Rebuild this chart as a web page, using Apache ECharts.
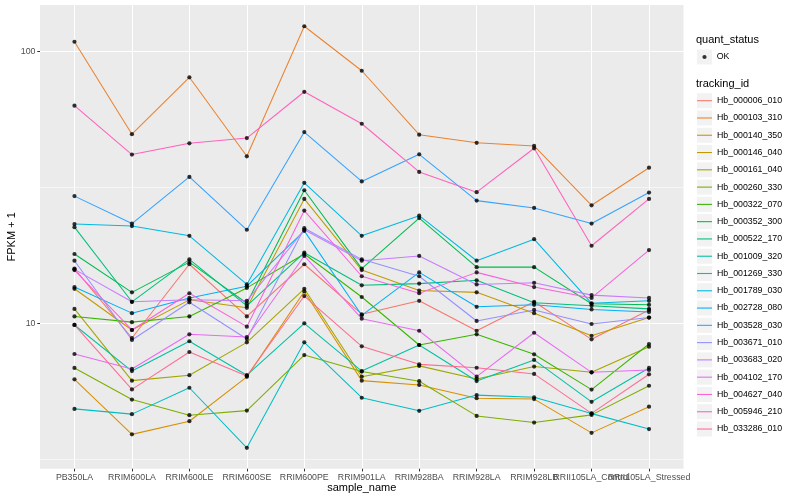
<!DOCTYPE html>
<html><head><meta charset="utf-8">
<script src="https://cdn.jsdelivr.net/npm/echarts@6/dist/echarts.min.js"></script>
<style>html,body{margin:0;padding:0;background:#fff}#c{width:800px;height:500px}</style>
</head><body><div id="c"></div>
<script>
const samples = ['PB350LA','RRIM600LA','RRIM600LE','RRIM600SE','RRIM600PE','RRIM901LA','RRIM928BA','RRIM928LA','RRIM928LB','RRII105LA_Control','RRII105LA_Stressed'];
const trackingIds = ['Hb_000006_010','Hb_000103_310','Hb_000140_350','Hb_000146_040','Hb_000161_040','Hb_000260_330','Hb_000322_070','Hb_000352_300','Hb_000522_170','Hb_001009_320','Hb_001269_330','Hb_001789_030','Hb_002728_080','Hb_003528_030','Hb_003671_010','Hb_003683_020','Hb_004102_170','Hb_004627_040','Hb_005946_210','Hb_033286_010'];
const quantStatus = ['OK'];
const yTickValues = [10, 100];
const yMinorValues = [3.1623, 31.623];

const Hb_000006_010 = [15.9, 8.83, 16.5, 10.6, 16.5, 10.8, 12.1, 9.39, 12.0, 8.73, 11.2];
const Hb_000103_310 = [108.8, 49.7, 80.5, 41.2, 124.1, 85.1, 49.5, 46.2, 45.0, 27.2, 37.4];
const Hb_000140_350 = [6.22, 3.90, 4.36, 6.35, 13.1, 6.15, 5.93, 5.30, 5.26, 3.95, 4.93];
const Hb_000146_040 = [13.4, 9.45, 12.2, 11.4, 28.7, 15.7, 13.2, 13.0, 10.9, 9.00, 10.5];
const Hb_000161_040 = [11.3, 6.15, 6.44, 8.51, 13.4, 6.36, 6.97, 6.24, 6.93, 6.60, 8.20];
const Hb_000260_330 = [6.85, 5.24, 4.59, 4.77, 7.64, 6.64, 6.12, 4.56, 4.31, 4.60, 5.89];
const Hb_000322_070 = [10.6, 10.1, 10.6, 13.5, 18.0, 12.5, 8.32, 9.11, 7.69, 5.70, 8.39];
const Hb_000352_300 = [18.0, 13.0, 16.8, 11.85, 30.9, 15.9, 24.4, 16.1, 16.1, 11.8, 11.7];
const Hb_000522_170 = [22.6, 12.0, 17.2, 11.6, 18.2, 13.8, 14.0, 14.4, 11.9, 11.6, 11.3];
const Hb_001009_320 = [9.86, 6.67, 8.59, 6.44, 10.0, 6.67, 8.32, 6.13, 7.33, 5.14, 6.85];
const Hb_001269_330 = [4.84, 4.63, 5.79, 3.48, 8.51, 5.32, 4.76, 5.44, 5.34, 4.65, 4.08];
const Hb_001789_030 = [23.2, 22.8, 21.0, 13.9, 32.9, 21.0, 24.9, 17.0, 20.4, 11.85, 12.1];
const Hb_002728_080 = [13.6, 10.9, 12.4, 13.7, 21.9, 10.7, 15.4, 11.5, 11.7, 11.25, 11.0];
const Hb_003528_030 = [29.4, 23.3, 34.6, 22.1, 50.6, 33.3, 41.9, 28.3, 26.6, 23.3, 30.3];
const Hb_003671_010 = [17.0, 8.68, 11.95, 8.75, 22.4, 17.2, 14.9, 10.2, 11.2, 9.94, 10.5];
const Hb_003683_020 = [15.8, 12.0, 12.2, 12.1, 22.1, 17.0, 17.7, 13.9, 14.1, 12.7, 12.4];
const Hb_004102_170 = [7.71, 6.79, 9.11, 8.9, 17.7, 10.4, 9.39, 6.36, 9.23, 6.60, 6.73];
const Hb_004627_040 = [15.7, 9.45, 12.9, 9.72, 26.0, 14.9, 12.9, 15.4, 13.6, 12.4, 18.6];
const Hb_005946_210 = [63.3, 41.8, 46.0, 48.1, 71.2, 54.3, 36.1, 30.4, 44.1, 19.3, 28.7];
const Hb_033286_010 = [9.86, 5.71, 7.84, 6.40, 12.6, 8.23, 7.06, 6.86, 6.51, 4.66, 6.49];

const seriesValues = [Hb_000006_010, Hb_000103_310, Hb_000140_350, Hb_000146_040, Hb_000161_040, Hb_000260_330, Hb_000322_070, Hb_000352_300, Hb_000522_170, Hb_001009_320, Hb_001269_330, Hb_001789_030, Hb_002728_080, Hb_003528_030, Hb_003671_010, Hb_003683_020, Hb_004102_170, Hb_004627_040, Hb_005946_210, Hb_033286_010];

const colors = ['#F8766D','#EA8331','#D89000','#C09B00','#A3A500','#7CAE00','#39B600','#00BB4E','#00BF7D','#00C1A3','#00BFC4','#00BAE0','#00B0F6','#35A2FF','#9590FF','#C77CFF','#E76BF3','#FA62DB','#FF62BC','#FF6C91'];

const FONT = '"Liberation Sans", Arial, Helvetica, sans-serif';
const idx = samples.map((s, i) => i);
// labels split over two axes so overlapping neighbours are both kept
const idxA = idx.filter(i => i % 2 === 0);
const idxB = idx.filter(i => i % 2 === 1);

const lineSeries = trackingIds.map((id, i) => ({
  name: id, type: 'line', z: 3, silent: true, animation: false,
  symbol: 'none', xAxisIndex: 0,
  data: seriesValues[i].map((v, j) => [j, v]),
  lineStyle: { width: 1.05, color: colors[i] },
  itemStyle: { color: colors[i] }
}));

const pointData = [];
seriesValues.forEach(arr => arr.forEach((v, j) => pointData.push([j, v])));

const pointSeries = {
  name: quantStatus[0], type: 'scatter', z: 4, silent: true, animation: false,
  symbol: 'circle', symbolSize: 4.2, xAxisIndex: 0,
  itemStyle: { color: '#000' },
  data: pointData,
  markLine: {
    silent: true, z: 1, symbol: 'none', animation: false,
    label: { show: false },
    lineStyle: { color: '#ffffff', width: 0.55, type: 'solid' },
    emphasis: { disabled: true },
    data: yMinorValues.map(v => ({ yAxis: v }))
  }
};

const keyRects = [];
keyRects.push({ type: 'rect', z: 0, shape: { x: 697, y: 49.5, width: 15, height: 15 }, style: { fill: '#F2F2F2' } });
trackingIds.forEach((id, i) => {
  keyRects.push({ type: 'rect', z: 0, shape: { x: 697, y: 93.2 + i * 17.28, width: 15, height: 15 }, style: { fill: '#F2F2F2' } });
});

const labelStyle = { color: '#4D4D4D', fontSize: 8.8, margin: 4.5, fontFamily: FONT, hideOverlap: false };

function xAxisFor(values, main) {
  return {
    type: 'value', min: -0.6, max: 10.6, position: 'bottom', offset: 0,
    axisLine: { show: false, onZero: false },
    axisTick: { show: main, customValues: idx, length: 2.75, lineStyle: { color: '#333333', width: 1 } },
    axisLabel: Object.assign({ customValues: values, formatter: v => samples[Math.round(v)] }, labelStyle),
    splitLine: { show: main, lineStyle: { color: '#ffffff', width: 1.07 } },
    name: main ? 'sample_name' : '', nameLocation: 'middle', nameGap: 13.5, nameMoveOverlap: false,
    nameTextStyle: { fontSize: 11, color: '#000', fontFamily: FONT }
  };
}

const chart = echarts.init(document.getElementById('c'), null, { renderer: 'canvas' });
chart.setOption({
  animation: false,
  backgroundColor: '#ffffff',
  textStyle: { fontFamily: FONT },
  title: [
    { text: 'quant_status', left: 696, top: 34, padding: 0, textStyle: { fontSize: 11, fontWeight: 'normal', color: '#000', fontFamily: FONT } },
    { text: 'tracking_id', left: 696, top: 78.5, padding: 0, textStyle: { fontSize: 11, fontWeight: 'normal', color: '#000', fontFamily: FONT } }
  ],
  legend: [
    {
      data: quantStatus.map(n => ({ name: n, icon: 'circle' })), orient: 'vertical', left: 702.4, top: 49.5, padding: 0,
      itemWidth: 4.2, itemHeight: 4.2, selectedMode: false,
      textStyle: { fontSize: 8.8, color: '#000', fontFamily: FONT, lineHeight: 15, padding: [0, 0, 0, 5.1] }
    },
    {
      data: trackingIds.map(id => ({ name: id, icon: 'path://M0,0L20,0L20,1.45L0,1.45Z' })),
      orient: 'vertical', left: 697, top: 93.2, padding: 0,
      itemWidth: 15, itemHeight: 15, itemGap: 2.28, selectedMode: false,
      symbolKeepAspect: true,
      textStyle: { fontSize: 8.8, color: '#000', fontFamily: FONT, lineHeight: 15 }
    }
  ],
  graphic: keyRects,
  grid: { left: 40, right: 116.5, top: 5, bottom: 31.3, show: true, backgroundColor: '#EBEBEB', borderWidth: 0, containLabel: false, outerBoundsMode: 'none' },
  xAxis: [xAxisFor(idxA, true), xAxisFor(idxB, false)],
  yAxis: {
    type: 'log', logBase: 10, min: 2.915, max: 148.6,
    axisLine: { show: false, onZero: false },
    axisTick: { show: true, customValues: yTickValues, length: 2.75, lineStyle: { color: '#333333', width: 1 } },
    axisLabel: Object.assign({ customValues: yTickValues, formatter: v => String(Math.round(v)) }, labelStyle),
    splitLine: { show: true, lineStyle: { color: '#ffffff', width: 1.07 } },
    name: 'FPKM + 1', nameLocation: 'middle', nameGap: 22.5, nameRotate: 90, nameMoveOverlap: false,
    nameTextStyle: { fontSize: 11, color: '#000', fontFamily: FONT }
  },
  series: lineSeries.concat([pointSeries])
});
</script>
</body></html>
